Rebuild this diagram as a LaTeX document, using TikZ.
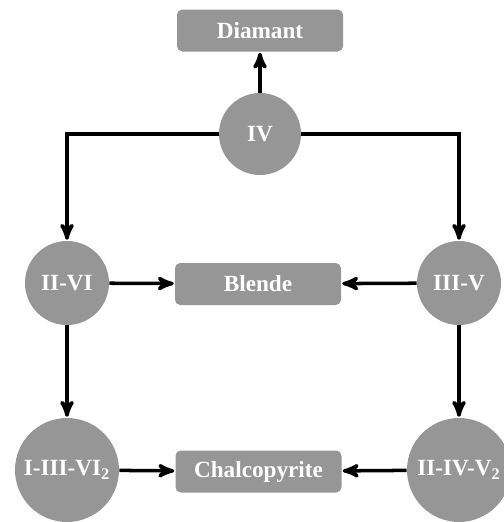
\documentclass[tikz,border=0pt]{standalone}
\usepackage{fontspec}
\setmainfont{Liberation Serif}
\usepackage{tikz}
\usetikzlibrary{arrows}
\definecolor{boxgray}{RGB}{150, 150, 150}

\tikzset{
    structbox/.style={fill=boxgray, draw=none, rounded corners=3pt, minimum width=3.32cm, minimum height=0.84cm,
                      text=white, font=\fontsize{13.2}{15}\selectfont\bfseries},
    familynode/.style={circle, fill=boxgray, draw=none, inner sep=0pt,
                       text=white, font=\fontsize{13.2}{15}\selectfont\bfseries},
    link/.style={black, line width=2pt, -stealth', shorten >=0.5pt}
}

\begin{document}
\begin{tikzpicture}
            % Frame
            \useasboundingbox (0.00, 0.00) rectangle (10.08,-10.44);
            % Structures
            \node[structbox] (diamant) at (5.20,-0.61) {Diamant};
            \node[structbox] (blende)  at (5.16,-5.68) {Blende};
            \node[structbox] (chalco)  at (5.17,-9.43) {Chalcopyrite};
            % Families
            \node[familynode, minimum size=1.64cm] (iv)    at (5.20,-2.68) {IV};
            \node[familynode, minimum size=1.68cm] (iivi)  at (1.34,-5.66) {II-VI};
            \node[familynode, minimum size=1.68cm] (iiiv)  at (9.18,-5.66) {III-V};
            \node[familynode, minimum size=2.08cm] (iiivi) at (1.34,-9.40) {I-III-VI$_{\mathbf{2}}$};
            \node[familynode, minimum size=2.08cm] (ivv)   at (9.18,-9.40) {II-IV-V$_{\mathbf{2}}$};
            % Links
            \draw[link] (iv) -- (diamant);
            \draw[link] (iv.west) -| (iivi.north);
            \draw[link] (iv.east) -| (iiiv.north);
            \draw[link] (iivi) -- (blende);
            \draw[link] (iiiv) -- (blende);
            \draw[link] (iivi) -- (iiivi);
            \draw[link] (iiiv) -- (ivv);
            \draw[link] (iiivi) -- (chalco);
            \draw[link] (ivv) -- (chalco);
\end{tikzpicture}
\end{document}
